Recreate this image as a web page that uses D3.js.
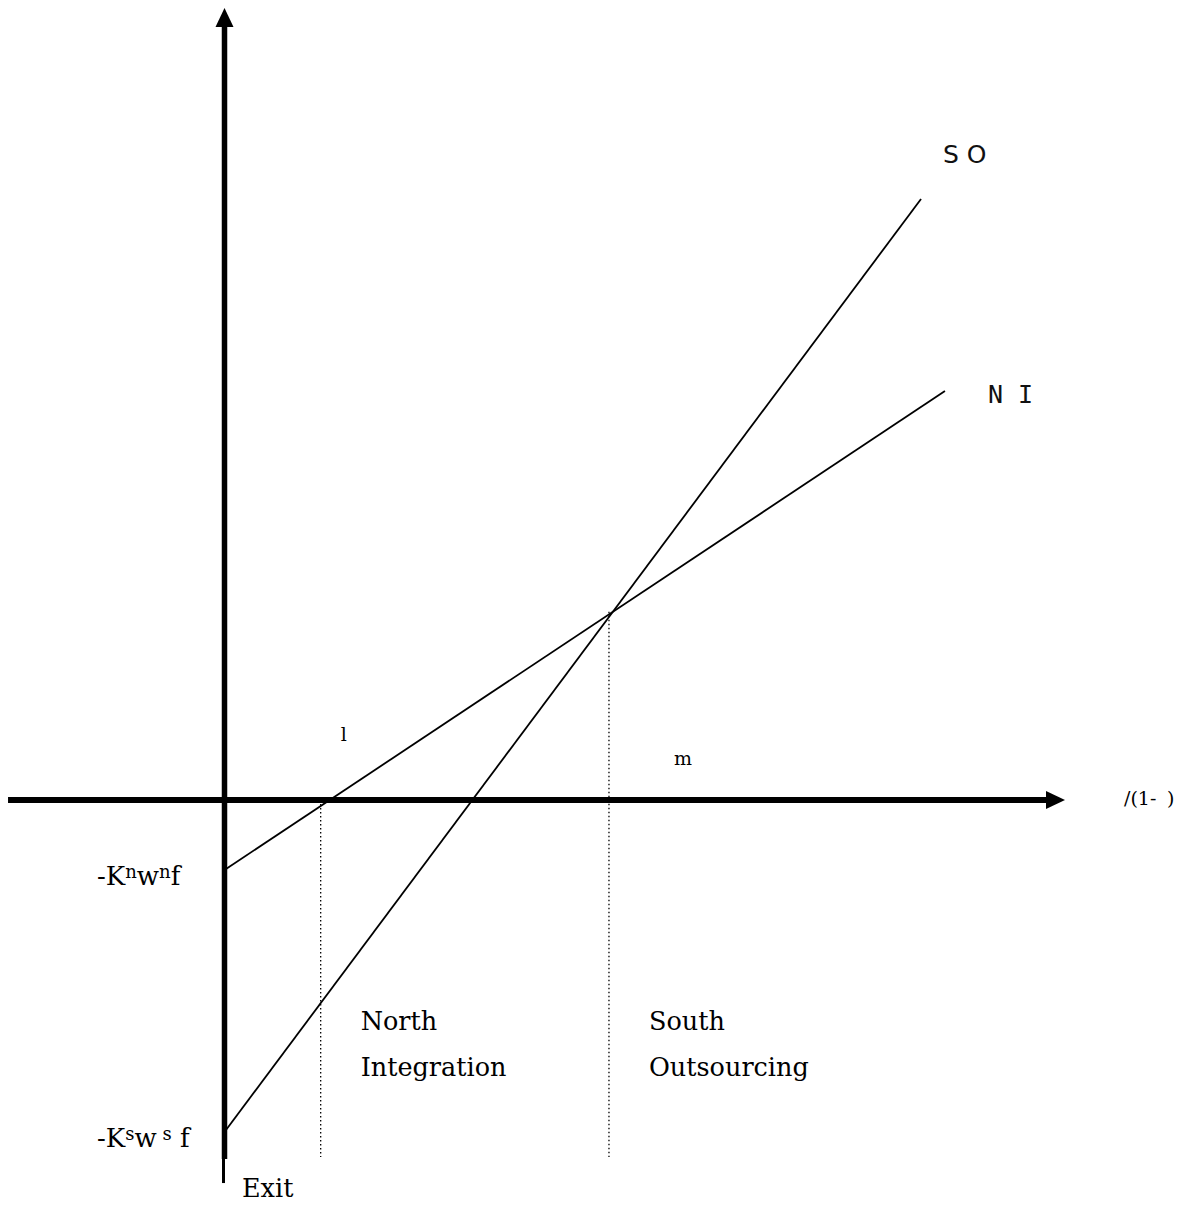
<!DOCTYPE html>
<html>
<head>
<meta charset="utf-8">
<style>
  body { margin: 0; background: #fff; }
  svg text { white-space: pre; }
</style>
</head>
<body>
<svg id="chart" width="1192" height="1205"></svg>
<script src="https://d3js.org/d3.v7.min.js"></script>
<script>

// profit lines, [theta, profit] in model units
var niLine = [[0, -0.833], [8.577, 4.869]];
var soLine = [[0, -3.952], [8.292, 7.155]];
var seriesNames = ["S O", "N I"];

// cutoffs (theta_l, theta_m) and where their dotted guides start
var cutoffX = [1.145, 4.577];
var cutoffTop = [0, 2.24];
var cutoffLabels = ["l", "m"];
var guideBottom = -4.25;

// axes extents
var xAxisRange = [-2.577, 10.006];
var yAxisRange = [-4.274, 9.43];
var yStubEnd = -4.56;

var interceptLabels = [
  [["-K", 0], ["n", 1], ["w", 0], ["n", 1], ["f", 0]],
  [["-K", 0], ["s", 1], ["w", 0], [" s", 1], [" f", 0]]
];
var regionLabels = [["North", "Integration"], ["South", "Outsourcing"]];
var xAxisTitle = ["/(1-", ")"];
var exitLabel = "Exit";

var svg = d3.select("#chart");
var serif = "'DejaVu Serif', serif";

var x = d3.scaleLinear().domain([0, 10]).range([224.5, 1064.5]);
var y = d3.scaleLinear().domain([0, 10]).range([800, -40]);

var line = d3.line()
    .x(function(d) { return x(d[0]); })
    .y(function(d) { return y(d[1]); });

// dotted cutoff guides
cutoffX.forEach(function(cx, i) {
  svg.append("line")
      .attr("x1", x(cx)).attr("x2", x(cx))
      .attr("y1", y(cutoffTop[i])).attr("y2", y(guideBottom))
      .attr("stroke", "#000")
      .attr("stroke-width", 1.3)
      .attr("stroke-dasharray", "1.5,2.5");
});

// axes
var ax = svg.append("g");
ax.append("line")
    .attr("x1", x(xAxisRange[0])).attr("x2", x(xAxisRange[1]) - 18)
    .attr("y1", y(0)).attr("y2", y(0))
    .attr("stroke", "#000").attr("stroke-width", 6);
ax.append("path")
    .attr("d", "M" + x(xAxisRange[1]) + "," + y(0) +
               "L" + (x(xAxisRange[1]) - 19) + "," + (y(0) - 9) +
               "L" + (x(xAxisRange[1]) - 19) + "," + (y(0) + 9) + "Z")
    .attr("fill", "#000");

ax.append("line")
    .attr("x1", x(0)).attr("x2", x(0))
    .attr("y1", y(yAxisRange[0])).attr("y2", y(yAxisRange[1]) + 17)
    .attr("stroke", "#000").attr("stroke-width", 5.5);
ax.append("line")
    .attr("x1", x(0) - 1).attr("x2", x(0) - 1)
    .attr("y1", y(yAxisRange[0]) - 1).attr("y2", y(yStubEnd))
    .attr("stroke", "#000").attr("stroke-width", 3);
ax.append("path")
    .attr("d", "M" + x(0) + "," + y(yAxisRange[1]) +
               "L" + (x(0) - 9) + "," + (y(yAxisRange[1]) + 19) +
               "L" + (x(0) + 9) + "," + (y(yAxisRange[1]) + 19) + "Z")
    .attr("fill", "#000");

// profit lines
[soLine, niLine].forEach(function(d) {
  svg.append("path")
      .datum(d)
      .attr("fill", "none")
      .attr("stroke", "#000")
      .attr("stroke-width", 1.8)
      .attr("d", line);
});

// series labels
svg.append("text")
    .attr("x", x(soLine[1][0]) + 22).attr("y", y(soLine[1][1]) - 36)
    .attr("font-family", "'DejaVu Sans', sans-serif").attr("font-size", 25)
    .attr("fill", "#111")
    .text(seriesNames[0]);
svg.append("text")
    .attr("x", x(niLine[1][0]) + 43).attr("y", y(niLine[1][1]) + 12)
    .attr("font-family", "'DejaVu Sans Mono', monospace").attr("font-size", 25)
    .attr("fill", "#111")
    .text(seriesNames[1]);

// intercept labels with superscripts
[niLine[0][1], soLine[0][1]].forEach(function(v, i) {
  var t = svg.append("text")
      .attr("x", 97).attr("y", y(v) + 15)
      .attr("font-family", serif).attr("font-size", 26);
  var up = false;
  interceptLabels[i].forEach(function(p) {
    var s = t.append("tspan").text(p[0]);
    if (p[1] && !up) { s.attr("dy", -7).attr("font-size", 18); up = true; }
    else if (p[1]) { s.attr("font-size", 18); }
    else if (up) { s.attr("dy", 7); up = false; }
  });
});

// cutoff labels
svg.append("text")
    .attr("x", x(cutoffX[0]) + 20).attr("y", 741)
    .attr("font-family", serif).attr("font-size", 19)
    .text(cutoffLabels[0]);
svg.append("text")
    .attr("x", x(cutoffX[1]) + 65).attr("y", 765)
    .attr("font-family", serif).attr("font-size", 19)
    .text(cutoffLabels[1]);

// region labels
cutoffX.forEach(function(cx, i) {
  regionLabels[i].forEach(function(s, j) {
    svg.append("text")
        .attr("x", x(cx) + 40).attr("y", 1030 + j * 46)
        .attr("font-family", serif).attr("font-size", 25.5)
        .text(s);
  });
});

// x axis title
svg.append("text")
    .attr("x", 1124).attr("y", y(0) + 5)
    .attr("font-family", serif).attr("font-size", 19)
    .text(xAxisTitle[0]);
svg.append("text")
    .attr("x", 1167).attr("y", y(0) + 5)
    .attr("font-family", serif).attr("font-size", 19)
    .text(xAxisTitle[1]);

svg.append("text")
    .attr("x", 242).attr("y", 1197)
    .attr("font-family", serif).attr("font-size", 25.5)
    .text(exitLabel);

</script>
</body>
</html>
